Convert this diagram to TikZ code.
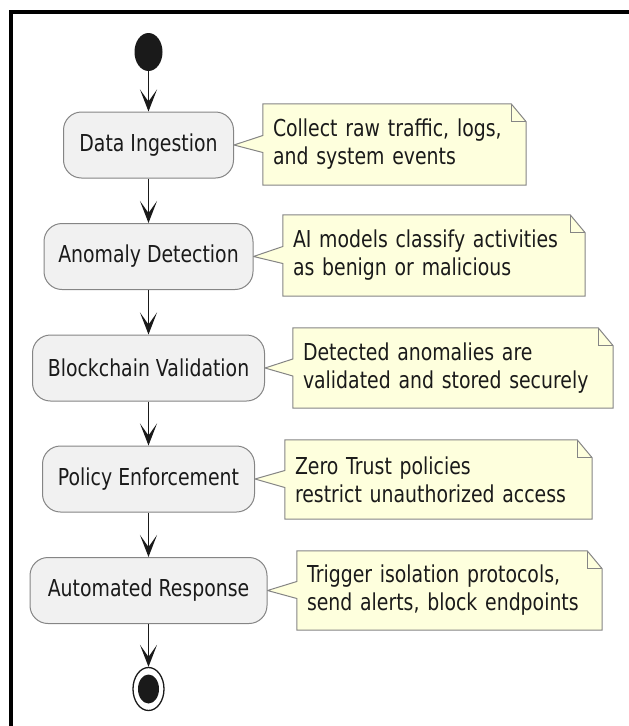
\documentclass[tikz,border=0pt]{standalone}
\usepackage{fontspec}
\setmainfont[FakeStretch=0.81]{DejaVu Sans}
\usetikzlibrary{arrows.meta,shapes.geometric,backgrounds}
\definecolor{actfill}{HTML}{F1F1F1}
\definecolor{notefill}{HTML}{FEFFDD}
\definecolor{edge}{HTML}{858585}
\definecolor{ink}{HTML}{1A1A1A}
\begin{document}
\begin{tikzpicture}[x=1pt,y=-1pt,
  txt/.style={font=\fontsize{23.3}{28}\selectfont, text=ink},
  act/.style={txt, draw=edge, line width=1pt, fill=actfill,
    rounded corners=18pt, minimum height=66pt, inner sep=0pt},
  notetext/.style={txt, align=left, inner xsep=10pt, inner ysep=0pt, minimum height=80pt},
  notebd/.style={draw=edge, line width=1pt, fill=notefill},
  foldline/.style={draw=edge, line width=1pt},
  flow/.style={draw=ink, line width=1.5pt,
    -{Stealth[length=22pt,width=17pt,inset=12pt]}},
]
\useasboundingbox (0,0) rectangle (629,726);

% outer frame (only the top and left edges fall inside the page)
\begin{scope}
  \clip (0,0) rectangle (629,726);
  \draw[line width=4pt] (11,760) |- (660,12);
\end{scope}

% start and activities
\node[ellipse, fill=ink, minimum width=28pt, minimum height=38pt, inner sep=0pt] (start) at (148.5,52) {};
\node[act, minimum width=170pt] (ingest)  at (148.5,145)   {Data Ingestion};
\node[act, minimum width=209pt] (detect)  at (148.5,256.5) {Anomaly Detection};
\node[act, minimum width=232pt] (chain)   at (148.5,368)   {Blockchain Validation};
\node[act, minimum width=212pt] (policy)  at (148.5,479)   {Policy Enforcement};
\node[act, minimum width=237pt] (respond) at (148.5,590.5) {Automated Response};

% end
\node[ellipse, draw=ink, line width=1.3pt, minimum width=31pt, minimum height=43pt, inner sep=0pt] (stop) at (148.5,689) {};
\node[ellipse, fill=ink, minimum width=21pt, minimum height=29pt, inner sep=0pt] (stopdot) at (stop.center) {};

% notes
\node[notetext, text width=243pt, minimum height=81pt] (n1) at (394.5,144.5) {Collect raw traffic, logs,\\and system events};
\node[notetext, text width=282pt, minimum height=81pt] (n2) at (434,255.5) {AI models classify activities\\as benign or malicious};
\node[notetext, text width=300pt] (n3) at (453,368) {Detected anomalies are\\validated and stored securely};
\node[notetext, text width=287pt, minimum height=79pt] (n4) at (438.5,479.5) {Zero Trust policies\\restrict unauthorized access};
\node[notetext, text width=285pt, minimum height=79pt] (n5) at (449.5,590.5) {Trigger isolation protocols,\\send alerts, block endpoints};

% note outlines with folded corner and pointer
\begin{scope}[on background layer]
  \foreach \n/\b in {n1/ingest, n2/detect, n3/chain, n4/policy, n5/respond} {
    \draw[notebd] (\n.north west) -- ([xshift=-15pt]\n.north east)
      -- ([yshift=-18pt]\n.north east) -- (\n.south east) -- (\n.south west)
      -- ([yshift=-8pt]\n.west) -- (\b.east) -- ([yshift=9pt]\n.west) -- cycle;
    \draw[foldline] ([xshift=-15pt]\n.north east) |- ([yshift=-18pt]\n.north east);
  }
\end{scope}

% control flow
\draw[flow] (start) -- (ingest);
\draw[flow] (ingest) -- (detect);
\draw[flow] (detect) -- (chain);
\draw[flow] (chain) -- (policy);
\draw[flow] (policy) -- (respond);
\draw[flow] (respond) -- (stop);
\end{tikzpicture}
\end{document}
